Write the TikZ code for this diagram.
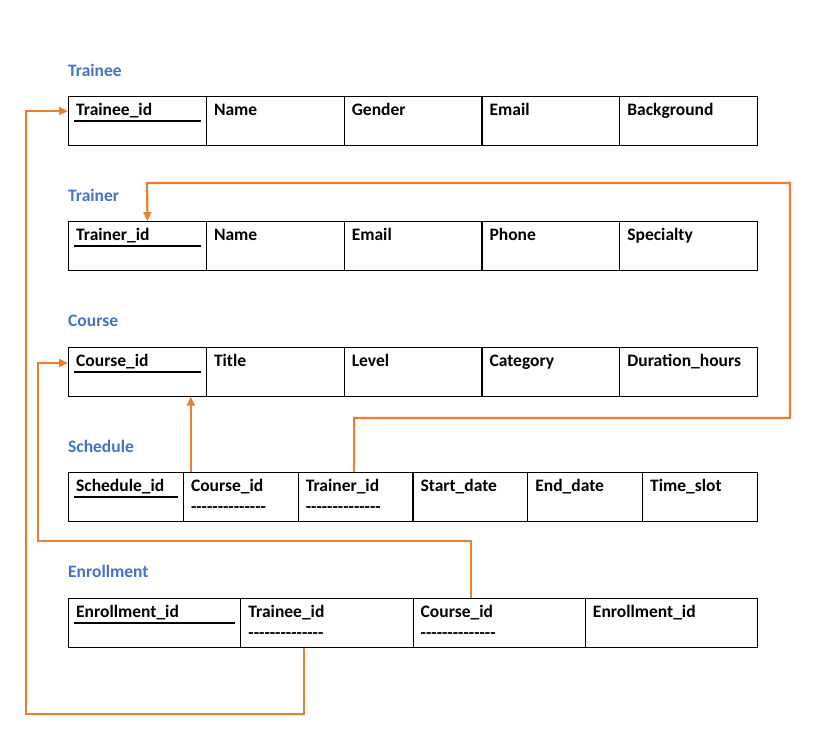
\documentclass[tikz,border=0pt]{standalone}
\usepackage{fontspec}
\setmainfont{Carlito}
\usetikzlibrary{arrows.meta}
\definecolor{titleblue}{HTML}{4472C4}
\definecolor{linkorange}{HTML}{ED7D31}
\newcommand{\fkdashes}{\foreach \k in {1,...,14}{\mbox{-}}}
\tikzset{
  cell/.style={draw, line width=1.2pt, anchor=north west, minimum height=48.5pt, inner sep=0pt},
  field/.style={anchor=base west, inner sep=0pt, font=\fontsize{17.5}{20}\selectfont\bfseries},
  tabletitle/.style={field, text=titleblue},
  keyline/.style={line width=2.2pt},
  fk/.style={linkorange, line width=2.2pt, -{Triangle[length=9pt,width=8pt]}}
}
\begin{document}
\begin{tikzpicture}[x=1pt, y=-1pt]
    \useasboundingbox (0,0) rectangle (834,753);

    % Trainee
    \node[tabletitle] (traineetitle) at (68,76) {Trainee};
    \foreach \i/\name in {1/Trainee\_id,2/Name,3/Gender,4/Email,5/Background} {
        \node[cell, minimum width=137.8pt] (trainee\i) at ({68+(\i-1)*137.8},96) {};
        \node[field] at ([xshift=8pt,yshift=-19pt]trainee\i.north west) {\name};
    }
    \draw[keyline] ([xshift=6pt,yshift=-25pt]trainee1.north west) -- ([xshift=-6pt,yshift=-25pt]trainee1.north east);

    % Trainer
    \node[tabletitle] (trainertitle) at (68,201) {Trainer};
    \foreach \i/\name in {1/Trainer\_id,2/Name,3/Email,4/Phone,5/Specialty} {
        \node[cell, minimum width=137.8pt] (trainer\i) at ({68+(\i-1)*137.8},221) {};
        \node[field] at ([xshift=8pt,yshift=-19pt]trainer\i.north west) {\name};
    }
    \draw[keyline] ([xshift=6pt,yshift=-25pt]trainer1.north west) -- ([xshift=-6pt,yshift=-25pt]trainer1.north east);

    % Course
    \node[tabletitle] (coursetitle) at (68,326) {Course};
    \foreach \i/\name in {1/Course\_id,2/Title,3/Level,4/Category,5/Duration\_hours} {
        \node[cell, minimum width=137.8pt] (course\i) at ({68+(\i-1)*137.8},347) {};
        \node[field] at ([xshift=8pt,yshift=-19pt]course\i.north west) {\name};
    }
    \draw[keyline] ([xshift=6pt,yshift=-25pt]course1.north west) -- ([xshift=-6pt,yshift=-25pt]course1.north east);

    % Schedule
    \node[tabletitle] (scheduletitle) at (68,452) {Schedule};
    \foreach \i/\name in {1/Schedule\_id,2/Course\_id,3/Trainer\_id,4/Start\_date,5/End\_date,6/Time\_slot} {
        \node[cell, minimum width=114.8pt] (schedule\i) at ({68+(\i-1)*114.8},472) {};
        \node[field] at ([xshift=8pt,yshift=-19pt]schedule\i.north west) {\name};
    }
    \draw[keyline] ([xshift=6pt,yshift=-25pt]schedule1.north west) -- ([xshift=-6pt,yshift=-25pt]schedule1.north east);
    \foreach \i in {2,3}
        \node[field] at ([xshift=8pt,yshift=-40pt]schedule\i.north west) {\fkdashes};

    % Enrollment
    \node[tabletitle] (enrollmenttitle) at (68,577) {Enrollment};
    \foreach \i/\name in {1/Enrollment\_id,2/Trainee\_id,3/Course\_id,4/Enrollment\_id} {
        \node[cell, minimum width=172.25pt] (enrollment\i) at ({68+(\i-1)*172.25},598) {};
        \node[field] at ([xshift=8pt,yshift=-19pt]enrollment\i.north west) {\name};
    }
    \draw[keyline] ([xshift=6pt,yshift=-25pt]enrollment1.north west) -- ([xshift=-6pt,yshift=-25pt]enrollment1.north east);
    \foreach \i in {2,3}
        \node[field] at ([xshift=8pt,yshift=-40pt]enrollment\i.north west) {\fkdashes};

    % foreign keys
    \draw[fk] ([xshift=-23pt]enrollment2.south) |- (26,714) |- ([yshift=-15pt]trainee1.north west);
    \draw[fk] ([xshift=-1.5pt]schedule3.north) |- (790,418) |- (147,183) -- ([xshift=10pt]trainer1.north);
    \draw[fk] ([xshift=-50pt]schedule2.north) -- ([xshift=-50pt]schedule2.north |- course1.south);
    \draw[fk] ([xshift=-28pt]enrollment3.north) |- (38,541) |- ([yshift=-16pt]course1.north west);
\end{tikzpicture}
\end{document}
